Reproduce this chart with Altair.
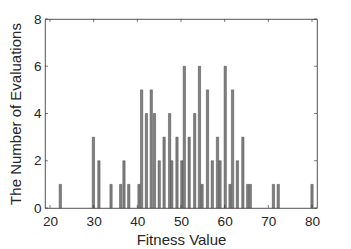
import altair as alt
import pandas as pd

# Bin centres (fitness value) and counts
fitness = [22.36, 29.94, 31.2, 33.98, 36.19, 36.94, 38.04, 40.38, 40.98, 42.08,
           43.19, 43.92, 45.02, 46.13, 47.39, 47.89, 49.08, 50.19, 50.76, 51.87,
           53.13, 54.23, 54.83, 56.07, 57.17, 58.36, 58.94, 60.13, 61.23, 61.81,
           62.91, 64.17, 65.27, 65.87, 71.17, 72.27, 80.0]
counts = [1, 3, 2, 1, 1, 2, 1, 1, 5, 4,
          5, 4, 2, 3, 4, 2, 3, 2, 6, 3,
          4, 6, 1, 5, 2, 3, 2, 6, 1, 5,
          2, 3, 1, 1, 1, 1, 1]
x_ticks = [20, 30, 40, 50, 60, 70, 80]
y_ticks = [0, 2, 4, 6, 8]

W, H = 272, 189
AX = "#262626"
FONT = "Liberation Sans"
LFS, TFS = 13.6, 15

df = pd.DataFrame({"v": fitness, "n": counts})
xt = pd.DataFrame({"t": x_ticks})
yt = pd.DataFrame({"t": y_ticks})

xs = alt.Scale(domain=[20, 80], nice=False, zero=False)
ys = alt.Scale(domain=[0, 8], nice=False)

bars = alt.Chart(df).mark_bar(size=2.3, color="#808080", stroke="#4a4a4a", strokeWidth=0.5).encode(
    x=alt.X("v:Q", scale=xs,
            axis=alt.Axis(values=x_ticks, title="Fitness Value", grid=False, domain=False,
                          tickSize=0, labelPadding=6, labelFontSize=LFS, titleFontSize=TFS,
                          titleFontWeight="normal", titlePadding=5, labelColor=AX, titleColor=AX,
                          labelFont=FONT, titleFont=FONT)),
    y=alt.Y("n:Q", scale=ys,
            axis=alt.Axis(values=y_ticks, title="The Number of Evaluations", grid=False, domain=False,
                          tickSize=0, labelPadding=4, labelFontSize=LFS, titleFontSize=TFS,
                          titleFontWeight="normal", titlePadding=10, labelColor=AX, titleColor=AX,
                          labelFont=FONT, titleFont=FONT)),
)

xb = alt.Chart(xt).mark_rule(color=AX, strokeWidth=0.6).encode(
    x=alt.X("t:Q", scale=xs), y=alt.value(H), y2=alt.value(H - 3))
xtop = alt.Chart(xt).mark_rule(color=AX, strokeWidth=0.6).encode(
    x=alt.X("t:Q", scale=xs), y=alt.value(0), y2=alt.value(3))
yl = alt.Chart(yt).mark_rule(color=AX, strokeWidth=0.6).encode(
    y=alt.Y("t:Q", scale=ys), x=alt.value(0), x2=alt.value(3))
yr = alt.Chart(yt).mark_rule(color=AX, strokeWidth=0.6).encode(
    y=alt.Y("t:Q", scale=ys), x=alt.value(W), x2=alt.value(W - 3))

chart = alt.layer(bars, xb, xtop, yl, yr).properties(
    width=W, height=H,
    background="white",
    autosize=alt.AutoSizeParams(type="none"),
    padding={"left": 37, "top": 11, "right": 20, "bottom": 40},
).configure_view(stroke=AX, strokeWidth=0.8)

chart.save("out.html", embed_options={"renderer": "svg", "actions": False})
